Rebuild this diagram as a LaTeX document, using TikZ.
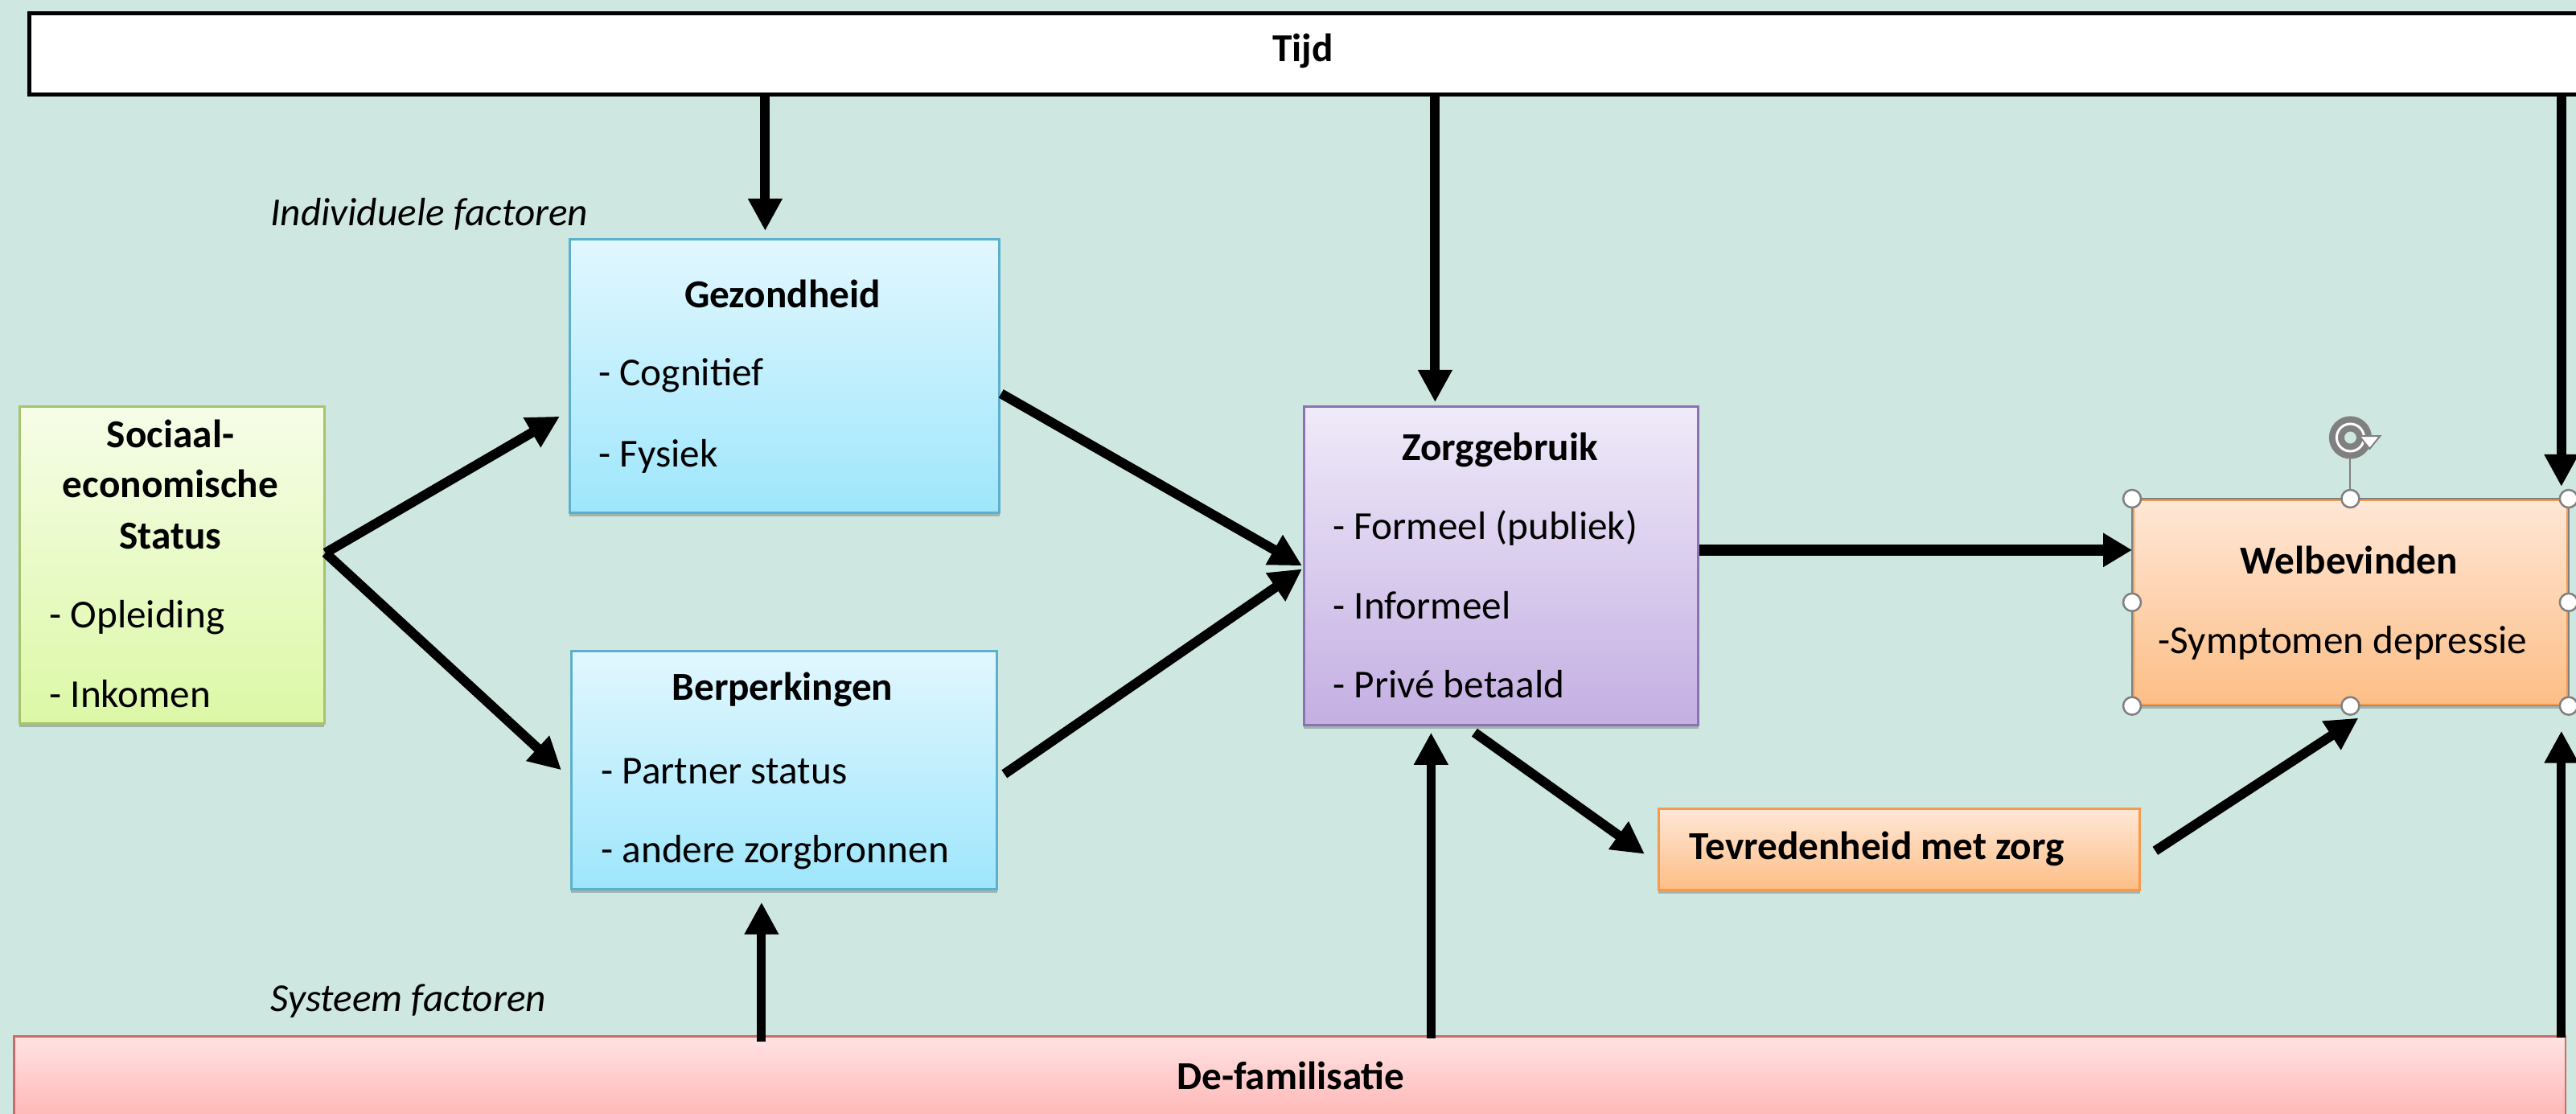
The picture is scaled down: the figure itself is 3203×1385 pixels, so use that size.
\documentclass[tikz,border=0pt]{standalone}
\usepackage{fontspec}
\setmainfont{Carlito}
\usetikzlibrary{arrows.meta,calc,shadows}
\definecolor{bgc}{HTML}{CEE7E0}
\definecolor{cyanT}{HTML}{E2F7FE}
\definecolor{cyanB}{HTML}{9EE6FC}
\definecolor{cyanD}{HTML}{5BB0CF}
\definecolor{grnT}{HTML}{F6FDE8}
\definecolor{grnB}{HTML}{DCF8A6}
\definecolor{grnD}{HTML}{A6C46C}
\definecolor{purT}{HTML}{EFEAF9}
\definecolor{purB}{HTML}{C4AFE2}
\definecolor{purD}{HTML}{8C72B2}
\definecolor{orT}{HTML}{FEE7D6}
\definecolor{orB}{HTML}{FDBE86}
\definecolor{orD}{HTML}{F59A4E}
\definecolor{redT}{HTML}{FFE3E3}
\definecolor{redB}{HTML}{FFA5A5}
\definecolor{redD}{HTML}{D06A6A}
\definecolor{hndl}{HTML}{808080}
\newcommand\dfont{\fontsize{14pt}{17pt}\selectfont}
\begin{document}
\begin{tikzpicture}[x=0.01cm,y=-0.01cm,font=\dfont,
  box/.style={draw, line width=0.025cm, inner sep=0pt, anchor=north west,
    drop shadow={shadow xshift=0pt, shadow yshift=-0.05cm, opacity=0.22, fill=black}},
  cyanbox/.style={box, draw=cyanD, top color=cyanT, bottom color=cyanB},
  grnbox/.style={box, draw=grnD, top color=grnT, bottom color=grnB},
  purbox/.style={box, draw=purD, top color=purT, bottom color=purB},
  orbox/.style={box, draw=orD, top color=orT, bottom color=orB},
  redbox/.style={box, draw=redD, top color=redT, bottom color=redB},
  ttl/.style={anchor=base, font=\dfont\bfseries},
  itm/.style={anchor=base west},
  lbl/.style={anchor=base west, font=\dfont\itshape},
  arr/.style={line width=0.12cm, -{Triangle[length=0.4cm,width=0.4cm]}},
  arrthin/.style={line width=0.11cm, -{Triangle[length=0.4cm,width=0.4cm]}},
  handle/.style={circle, draw=hndl, fill=white, line width=0.025cm, minimum size=0.22cm, inner sep=0pt}
]
\useasboundingbox (0,0) rectangle (3203,1385);
\clip (0,0) rectangle (3203,1385);
\fill[bgc] (0,0) rectangle (3203,1385);

% top bar
\node[draw=black, line width=0.05cm, fill=white, inner sep=0pt, anchor=north west,
  minimum width=31.67cm, minimum height=1.01cm] (tijd) at (34,14) {};
\node[ttl] (tijdtxt) at (1620,77) {Tijd};

% bottom bar
\node[redbox, minimum width=31.71cm, minimum height=1.40cm] (defam) at (16,1287) {};
\node[ttl] (defamtxt) at (1605,1354) {De-familisatie};

% group labels
\node[lbl] (indiv) at (324,281) {Individuele factoren};
\node[lbl] (syst) at (324,1257) {Systeem factoren};

% SES
\node[grnbox, minimum width=3.79cm, minimum height=3.94cm] (ses) at (23,504) {};
\node[ttl] (ses1) at (212,556) {Sociaal-};
\node[ttl] (ses2) at (212,618) {economische};
\node[ttl] (ses3) at (212,682) {Status};
\node[itm] (ses4) at (49,780) {- Opleiding};
\node[itm] (ses5) at (49,879) {- Inkomen};

% Gezondheid
\node[cyanbox, minimum width=5.34cm, minimum height=3.40cm] (gez) at (707,296) {};
\node[ttl] (gez1) at (973,382) {Gezondheid};
\node[itm] (gez2) at (732,479) {- Cognitief};
\node[itm] (gez3) at (732,580) {- Fysiek};

% Berperkingen
\node[cyanbox, minimum width=5.29cm, minimum height=2.96cm] (berp) at (709,808) {};
\node[ttl] (berp1) at (973,870) {Berperkingen};
\node[itm] (berp2) at (735,974) {- Partner status};
\node[itm] (berp3) at (735,1072) {- andere zorgbronnen};

% Zorggebruik
\node[purbox, minimum width=4.90cm, minimum height=3.96cm] (zorg) at (1620,504) {};
\node[ttl] (zorg1) at (1865,572) {Zorggebruik};
\node[itm] (zorg2) at (1645,670) {- Formeel (publiek)};
\node[itm] (zorg3) at (1645,769) {- Informeel};
\node[itm] (zorg4) at (1645,867) {- Privé betaald};

% Welbevinden
\node[orbox, minimum width=5.40cm, minimum height=2.55cm] (welb) at (2651,620) {};
\draw[hndl, line width=0.015cm] (welb.north west) rectangle (welb.south east);
\node[ttl] (welb1) at (2921,713) {Welbevinden};
\node[anchor=base] (welb2) at (2913,812) {-Symptomen depressie};

% Tevredenheid
\node[orbox, minimum width=5.98cm, minimum height=1.01cm] (tev) at (2061,1004) {};
\node[anchor=base west, font=\dfont\bfseries] (tev1) at (2088,1068) {Tevredenheid met zorg};

% helper coordinates
\coordinate (g1) at ($(gez.north)+(-24,0)$);
\coordinate (z1) at ($(zorg.north)+(-82,0)$);
\coordinate (w1) at ($(welb.north east)+(-9,0)$);
\coordinate (b2) at ($(berp.south)+(-28,0)$);
\coordinate (z2) at ($(zorg.south)+(-87,0)$);
\coordinate (w2) at ($(welb.south east)+(-9,0)$);
\coordinate (w3) at ($(welb.west)+(0,-65)$);

% arrows from Tijd
\draw[arr, shorten >=0.09cm] (g1 |- tijd.south) -- (g1);
\draw[arr, shorten >=0.04cm] (z1 |- tijd.south) -- (z1);
\draw[arr, shorten >=0.15cm] (w1 |- tijd.south) -- (w1);

% arrows from De-familisatie
\draw[arrthin, shorten >=0.15cm] ($(b2 |- defam.north)+(0,8)$) -- (b2);
\draw[arrthin, shorten >=0.08cm] ($(z2 |- defam.north)+(0,4)$) -- (z2);
\draw[arrthin, shorten >=0.31cm] ($(w2 |- defam.north)+(0,3)$) -- (w2);

% main arrows
\draw[arr] ($(ses.east)+(0,-15)$) -- ($(gez.south west)+(-11,-121)$);
\draw[arr] ($(ses.east)+(0,-15)$) -- ($(berp.west)+(-11,0)$);
\draw[arr] ($(gez.east)+(1,22)$) -- ($(zorg.west)+(-1,0)$);
\draw[arr] ($(berp.east)+(8,5)$) -- ($(zorg.west)+(-1,4)$);
\draw[line width=0.14cm, -{Triangle[length=0.36cm,width=0.4cm]}] (zorg.east |- w3) -- (w3);
\draw[arr] ($(zorg.south)+(-33,8)$) -- ($(tev.west)+(-16,6)$);
\draw[arr] ($(tev.east)+(18,2)$) -- ($(welb.south)+(10,15)$);

% selection handles
\draw[hndl, line width=0.02cm] (welb.north) -- ++(0,-54) coordinate (rotbase);
\node[circle, draw=hndl, line width=0.08cm, double=white, double distance=0.03cm,
  minimum size=0.34cm, inner sep=0pt] (rot) at ($(welb.north)+(0,-76)$) {};
\fill[white, draw=hndl, line width=0.02cm] ($(rot.east)+(-10,-2)$) -- ($(rot.east)+(16,-2)$) -- ($(rot.east)+(3,14)$) -- cycle;
\foreach \a in {north west,north,north east,west,east,south west,south,south east}
  \node[handle] at (welb.\a) {};
\end{tikzpicture}
\end{document}
